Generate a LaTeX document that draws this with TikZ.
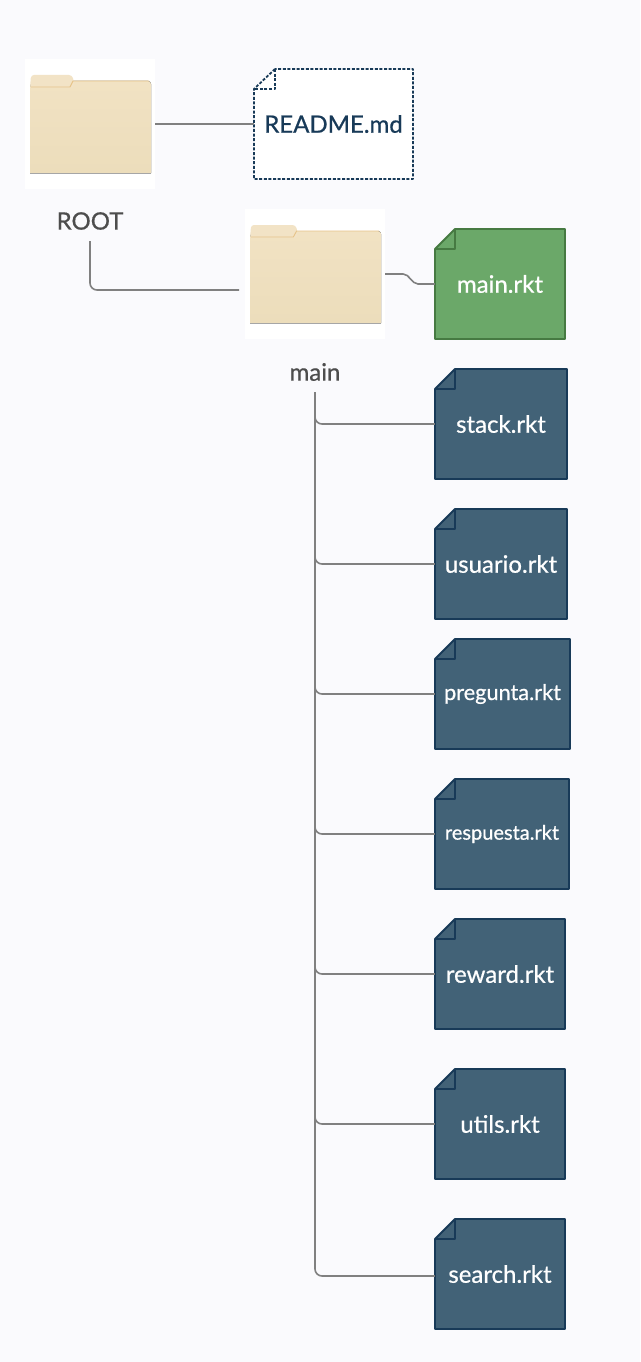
\documentclass[tikz,border=0pt]{standalone}
\usepackage{fontspec}
\setmainfont[FakeBold=0.6]{Lato}
\definecolor{pagebg}{HTML}{FAFAFD}
\definecolor{wirecol}{HTML}{808080}
\definecolor{labelcol}{HTML}{4D4D4D}
\definecolor{bluefill}{HTML}{426277}
\definecolor{blueline}{HTML}{183A58}
\definecolor{greenfill}{HTML}{6BA869}
\definecolor{greenline}{HTML}{467A42}
\definecolor{folderlight}{HTML}{F1E2C3}
\definecolor{folderdark}{HTML}{ECDDBB}
\definecolor{foldertab}{HTML}{F2E3C6}
\definecolor{foldercrease}{HTML}{E6C389}
\tikzset{
  wire/.style={draw=wirecol, line width=1.6pt, rounded corners=7pt},
  sheet/.style={line width=1.8pt, line join=round},
  bluesheet/.style={sheet, fill=bluefill, draw=blueline},
  greensheet/.style={sheet, fill=greenfill, draw=greenline},
  dashsheet/.style={sheet, fill=white, draw=blueline, dash pattern=on 3pt off 1.6pt},
  filetext/.style={text=white, font=\fontsize{24}{26}\selectfont, inner sep=0pt},
  foldername/.style={text=labelcol, font=\fontsize{24}{26}\selectfont, minimum height=40pt, inner sep=0pt},
  folderback/.style={fill=white, inner sep=0pt, minimum height=130pt},
  folder/.pic={
    \fill[top color=folderlight, bottom color=folderdark, rounded corners=3pt] (-60,49) [sharp corners] -- (-60,-37) -- (-58,-43) [rounded corners=3pt] -- (61,-43) [sharp corners] -- (61,49) -- cycle;
    \fill[foldertab, rounded corners=3pt] (-60,-36) -- (-59,-49) -- (-18,-49) -- (-16,-42) -- (-16,-36) -- cycle;
    \draw[foldercrease, line width=0.9pt] (-59,-37) -- (-20,-37) -- (-17,-43) -- (59,-43);
    \draw[gray!70, line width=1pt] (-60,49) -- (61,49);
  },
}
% sheet with a folded corner, its label goes on top
\newcommand{\filenode}[6]{
  \path[#1] (#3,#4) -- (#2,#4+20) -- (#2,#6) -- (#5,#6) -- (#5,#4) -- cycle;
  \path[#1, fill=none] (#3,#4) -- (#3,#4+20) -- (#2,#4+20);
}
\begin{document}
\begin{tikzpicture}[x=1pt,y=-1pt]
\fill[pagebg] (0,0) rectangle (640,1362);
\node[folderback, minimum width=130pt] (rootfolder) at (90,124) {};
\pic at (rootfolder) {folder};
\node[foldername] (rootlabel) at (90,221) {ROOT};
\node[folderback, minimum width=140pt] (mainfolder) at (315,274) {};
\pic[xscale=1.083] at (mainfolder) {folder};
\node[foldername] (mainlabel) at (315,372) {main};
\coordinate (mainin) at (239,290);

\filenode{dashsheet}{254}{275}{69}{413}{179}
\node[filetext, text=blueline, minimum width=159pt, minimum height=110pt] (readme) at (333.5,124) {\raisebox{-1pt}{README.md}};
\filenode{greensheet}{435}{455}{229}{565}{339}
\node[filetext, minimum width=130pt, minimum height=110pt] (mainrkt) at (500,284) {\raisebox{-1pt}{main.rkt}};
\filenode{bluesheet}{435}{455}{369}{567}{479}
\node[filetext, minimum width=132pt, minimum height=110pt] (stackrkt) at (501,424) {\raisebox{-2pt}{stack.rkt}};
\filenode{bluesheet}{435}{455}{509}{567}{619}
\node[filetext, minimum width=132pt, minimum height=110pt] (usuariorkt) at (501,564) {\raisebox{-2pt}{usuario.rkt}};
\filenode{bluesheet}{435}{455}{639}{570}{749}
\node[filetext, font=\fontsize{21.7}{24}\selectfont, minimum width=135pt, minimum height=110pt] (preguntarkt) at (502.5,694) {\raisebox{-2pt}{pregunta.rkt}};
\filenode{bluesheet}{435}{455}{779}{569}{889}
\node[filetext, font=\fontsize{20}{22}\selectfont, minimum width=134pt, minimum height=110pt] (respuestarkt) at (502,834) {\raisebox{-1pt}{respuesta.rkt}};
\filenode{bluesheet}{435}{455}{919}{565}{1029}
\node[filetext, minimum width=130pt, minimum height=110pt] (rewardrkt) at (500,974) {\raisebox{-2pt}{reward.rkt}};
\filenode{bluesheet}{435}{455}{1069}{565}{1179}
\node[filetext, minimum width=130pt, minimum height=110pt] (utilsrkt) at (500,1124) {\raisebox{-2pt}{utils.rkt}};
\filenode{bluesheet}{435}{455}{1219}{565}{1329}
\node[filetext, minimum width=130pt, minimum height=110pt] (searchrkt) at (500,1274) {\raisebox{-2pt}{search.rkt}};

\draw[wire] (rootfolder.east) -- (readme.west);
\draw[wire] (rootlabel.south) |- (mainin);
\draw[wire, sharp corners] (mainfolder.east) -- ++(18,0) .. controls ++(6,0) and (412,284) .. (418,284) -- (mainrkt.west);
\draw[wire] (mainlabel.south) |- (stackrkt.west);
\draw[wire] (mainlabel.south) |- (usuariorkt.west);
\draw[wire] (mainlabel.south) |- (preguntarkt.west);
\draw[wire] (mainlabel.south) |- (respuestarkt.west);
\draw[wire] (mainlabel.south) |- (rewardrkt.west);
\draw[wire] (mainlabel.south) |- (utilsrkt.west);
\draw[wire] (mainlabel.south) |- ([yshift=-2pt]searchrkt.west);
\end{tikzpicture}
\end{document}
